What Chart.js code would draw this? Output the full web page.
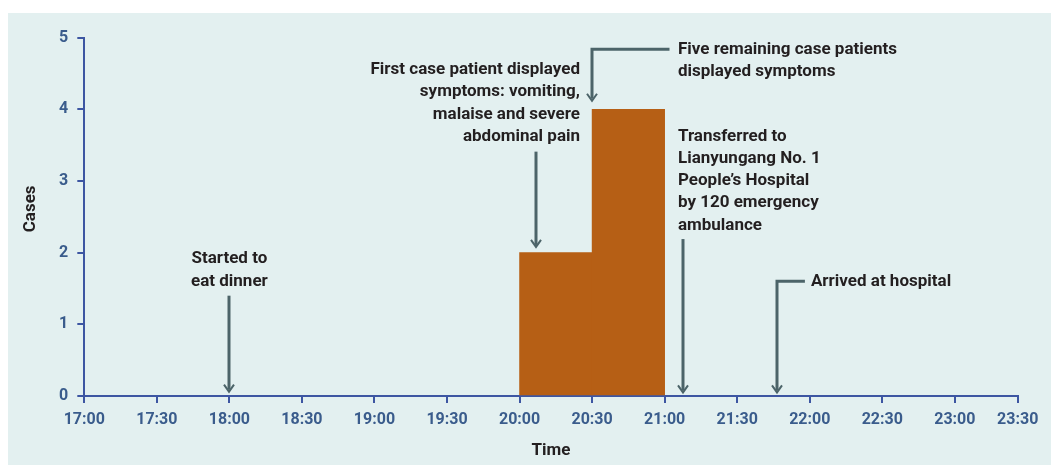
<!DOCTYPE html>
<html>
<head>
<meta charset="utf-8">
<script src="https://cdn.jsdelivr.net/npm/chart.js@4.4.1/dist/chart.umd.min.js"></script>
<style>
  html, body { margin: 0; background: #fff; }
  #panel { position: absolute; left: 8px; top: 13px; width: 1043px; height: 452px; background: #e3f0f0; }
</style>
</head>
<body>
<div id="panel"><canvas id="chart" width="1043" height="452"></canvas></div>
<script>
// half-hour ticks on the time axis
const xTickLabels = ['17:00', '17:30', '18:00', '18:30', '19:00', '19:30', '20:00',
  '20:30', '21:00', '21:30', '22:00', '22:30', '23:00', '23:30'];
// onset of symptoms, 30 minute bins
const binStarts = ['20:00', '20:30'];
const binCases = [2, 4];
const binWidth = 30;

const yMax = 5;

// timeline events: arrow position (clock time, case values) and label anchor
const events = [
  { lines: ['Started to', 'eat dinner'], align: 'center', textAt: '18:00', textY: 1.91,
    arrowAt: '18:00', from: 1.40, to: 0.06 },
  { lines: ['First case patient displayed', 'symptoms: vomiting,', 'malaise and severe', 'abdominal pain'],
    align: 'right', textAt: '20:25', textY: 4.55, arrowAt: '20:07', from: 3.41, to: 2.08 },
  { lines: ['Five remaining case patients', 'displayed symptoms'], align: 'left', textAt: '21:05.5', textY: 4.83,
    arrowAt: '20:30', elbowFrom: '21:02', from: 4.84, to: 4.12 },
  { lines: ['Transferred to', 'Lianyungang No. 1', 'People\u2019s Hospital', 'by 120 emergency', 'ambulance'],
    align: 'left', textAt: '21:05.5', textY: 3.62, arrowAt: '21:07.5', from: 2.19, to: 0.05 },
  { lines: ['Arrived at hospital'], align: 'left', textAt: '22:00.5', textY: 1.60,
    arrowAt: '21:46.5', elbowFrom: '21:58', from: 1.60, to: 0.05 },
];

const toMin = t => {
  const [h, m] = t.split(':');
  return (parseInt(h, 10) - 17) * 60 + parseFloat(m);
};

// the printed axis ends a little short of 23:30
const axisEnd = 386;

const axisColor = '#3d56a2';
const tickColor = '#3a5c8c';
const textColor = '#231f20';
const arrowColor = '#4c6469';
const barColor = '#b65f15';

const annotations = {
  id: 'annotations',
  afterDatasetsDraw(chart) {
    const { ctx, chartArea, scales: { x, y } } = chart;
    ctx.save();
    events.forEach(ev => {
      const ax = Math.round(x.getPixelForValue(toMin(ev.arrowAt)));
      const y0 = y.getPixelForValue(ev.from);
      const y1 = y.getPixelForValue(ev.to);

      ctx.strokeStyle = arrowColor;
      ctx.lineWidth = 3;
      ctx.lineJoin = 'miter';
      ctx.beginPath();
      if (ev.elbowFrom) {
        ctx.moveTo(x.getPixelForValue(toMin(ev.elbowFrom)), y0);
        ctx.lineTo(ax, y0);
      } else {
        ctx.moveTo(ax, y0);
      }
      ctx.lineTo(ax, y1 - 2);
      ctx.stroke();

      ctx.lineWidth = 2;
      ctx.beginPath();
      ctx.moveTo(ax - 5, y1 - 7);
      ctx.lineTo(ax, y1);
      ctx.lineTo(ax + 5, y1 - 7);
      ctx.stroke();

      ctx.fillStyle = textColor;
      ctx.font = 'bold 17px Roboto';
      ctx.textAlign = ev.align;
      ctx.textBaseline = 'middle';
      const tx = x.getPixelForValue(toMin(ev.textAt));
      const ty = y.getPixelForValue(ev.textY);
      ev.lines.forEach((line, i) => ctx.fillText(line, tx, ty + i * 22.2));
    });

    // y axis title, set a bit above the middle of the axis as printed
    ctx.translate(23, (chartArea.top + chartArea.bottom) / 2 - 8);
    ctx.rotate(-Math.PI / 2);
    ctx.textAlign = 'center';
    ctx.textBaseline = 'middle';
    ctx.fillStyle = textColor;
    ctx.font = 'bold 17px Roboto';
    ctx.fillText('Cases', 0, 0);
    ctx.restore();
  }
};

new Chart(document.getElementById('chart'), {
  type: 'bar',
  data: {
    datasets: [{
      label: 'Cases',
      data: binStarts.map((s, i) => ({ x: toMin(s) + binWidth / 2, y: binCases[i] })),
      backgroundColor: barColor,
      borderWidth: 0,
      barThickness: 'flex',
      barPercentage: 1,
      categoryPercentage: 1,
    }]
  },
  options: {
    responsive: false,
    devicePixelRatio: 1,
    animation: false,
    layout: { padding: { left: 0, top: 24.7, right: 33.3, bottom: 0 } },
    plugins: {
      legend: { display: false },
      tooltip: { enabled: false },
    },
    scales: {
      x: {
        type: 'linear',
        offset: false,
        min: 0,
        max: axisEnd,
        afterBuildTicks: scale => {
          scale.ticks = xTickLabels.map(t => ({ value: Math.min(toMin(t), axisEnd) }));
        },
        afterFit: scale => { scale.height = 69; },
        border: { color: axisColor, width: 2 },
        grid: { offset: false, drawOnChartArea: false, drawTicks: true, tickLength: 7, color: axisColor, lineWidth: 2 },
        ticks: {
          autoSkip: false,
          maxRotation: 0,
          padding: 7.5,
          color: tickColor,
          font: { family: 'Roboto', size: 16, weight: 'bold' },
          callback: (value, index) => xTickLabels[index],
        },
        title: {
          display: true,
          text: 'Time',
          color: textColor,
          font: { family: 'Roboto', size: 17, weight: 'bold' },
          padding: { top: 0, bottom: 4 },
        },
      },
      y: {
        min: 0,
        max: yMax,
        afterFit: scale => { scale.width = 76.3; },
        border: { color: axisColor, width: 2 },
        grid: { drawOnChartArea: false, drawTicks: true, tickLength: 7, color: axisColor, lineWidth: 2 },
        ticks: {
          stepSize: 1,
          padding: 9,
          color: tickColor,
          font: { family: 'Roboto', size: 16, weight: 'bold' },
        },
        title: { display: false },
      },
    },
  },
  plugins: [annotations],
});
</script>
</body>
</html>
